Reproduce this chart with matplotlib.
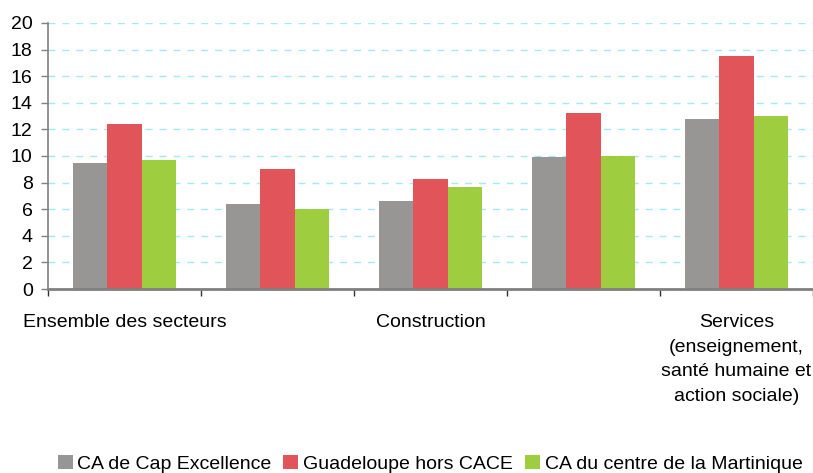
import matplotlib
matplotlib.use("Agg")
import matplotlib.pyplot as plt
import numpy as np

# Données
categories = [
    "Ensemble des secteurs",
    "",
    "Construction",
    "",
    "Services\n(enseignement,\nsanté humaine et\naction sociale)",
]
series_names = ["CA de Cap Excellence", "Guadeloupe hors CACE", "CA du centre de la Martinique"]
cap_excellence = [9.5, 6.4, 6.6, 9.9, 12.8]
guadeloupe_hors = [12.4, 9.0, 8.3, 13.2, 17.5]
centre_martinique = [9.7, 6.0, 7.7, 10.0, 13.0]
colors = ["#979694", "#E1555A", "#9ECD40"]

plt.rcParams["font.family"] = ["Liberation Sans", "DejaVu Sans"]
plt.rcParams["font.size"] = 14
plt.rcParams["lines.scale_dashes"] = False

fig = plt.figure(figsize=(8.13, 4.73), dpi=100)
ax = fig.add_axes([48 / 813, 1 - 289 / 473, 1 - 48 / 813, (289 - 23) / 473])

x = np.arange(len(categories))
width = 0.224
for i, (vals, name) in enumerate(zip([cap_excellence, guadeloupe_hors, centre_martinique], series_names)):
    ax.bar(x + (i - 1) * width, vals, width, color=colors[i], label=name, zorder=2)

ax.set_xlim(-0.5, len(categories) - 0.5)
ax.set_ylim(0, 20)
ax.set_yticks(np.arange(0, 21, 2))
ax.grid(axis="y", color="#A3EAF6", linestyle=(0, (5, 5)), linewidth=1.0)
ax.set_axisbelow(True)

ax.set_xticks(x)
ax.set_xticklabels(categories, va="top", ha="center", linespacing=1.58)
ax.set_xticks(np.arange(-0.5, len(categories)), minor=True)
ax.tick_params(axis="x", which="major", length=0, pad=18)
ax.tick_params(axis="x", which="minor", length=5, width=1, color="#333333", direction="out")
ax.tick_params(axis="y", length=5, width=1, color="#808080", pad=6)

for s in ["top", "right"]:
    ax.spines[s].set_visible(False)
ax.spines["left"].set_color("#808080")
ax.spines["left"].set_linewidth(1.2)
ax.spines["bottom"].set_color("#808080")
ax.spines["bottom"].set_linewidth(2)

fig.legend(
    loc="center",
    bbox_to_anchor=(430 / 813, 1 - 464 / 473),
    ncol=3,
    frameon=False,
    handlelength=0.77,
    handleheight=0.77,
    handletextpad=0.25,
    columnspacing=0.6,
    borderpad=0,
    borderaxespad=0,
)

fig.savefig("out.png", dpi=100)
